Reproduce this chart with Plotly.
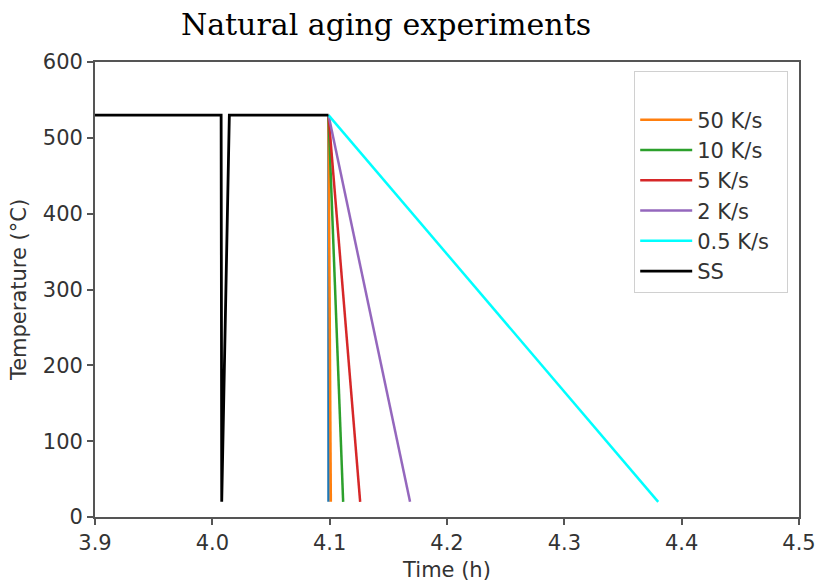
import plotly.graph_objects as go

# --- data ---
ss_time = [3.900, 4.0075, 4.0080, 4.0145, 4.0990]
ss_temp = [530, 530, 20, 530, 530]

quench_time = [4.0990, 4.0990]
quench_temp = [530, 20]

rate_labels = ["50 K/s", "10 K/s", "5 K/s", "2 K/s", "0.5 K/s"]
rate_time = [
    [4.0990, 4.1010],
    [4.0990, 4.1115],
    [4.0990, 4.1260],
    [4.0990, 4.1685],
    [4.0990, 4.3800],
]
rate_temp = [
    [530, 20],
    [530, 20],
    [530, 20],
    [530, 20],
    [530, 20],
]
rate_colors = ["#ff7f0e", "#2ca02c", "#d62728", "#9467bd", "#00ffff"]

x_ticks = [3.9, 4.0, 4.1, 4.2, 4.3, 4.4, 4.5]
x_tick_text = ["3.9", "4.0", "4.1", "4.2", "4.3", "4.4", "4.5"]
y_ticks = [0, 100, 200, 300, 400, 500, 600]

FS = 21

fig = go.Figure()

fig.add_trace(go.Scatter(x=quench_time, y=quench_temp, mode="lines",
                         line=dict(color="#1f77b4", width=2.5), showlegend=False))
for lbl, xs, ys, c in zip(rate_labels, rate_time, rate_temp, rate_colors):
    fig.add_trace(go.Scatter(x=xs, y=ys, mode="lines", name=lbl,
                             line=dict(color=c, width=2.5)))
fig.add_trace(go.Scatter(x=ss_time, y=ss_temp, mode="lines", name="SS",
                         line=dict(color="black", width=2.8)))

axis_common = dict(
    showline=True, linecolor="#555", linewidth=1.8, mirror=True,
    ticks="outside", ticklen=6, tickwidth=1.5, tickcolor="#555",
    showgrid=False, zeroline=False, automargin=False,
    tickfont=dict(family="DejaVu Sans", size=FS, color="#333"),
)

fig.update_layout(
    width=817, height=582,
    margin=dict(l=95, r=18, t=62, b=65),
    paper_bgcolor="white", plot_bgcolor="white",
    title=dict(text="Natural aging experiments", x=386/817, xanchor="center",
               y=1 - 24/582, yanchor="middle",
               font=dict(family="DejaVu Serif", size=30, color="black")),
    xaxis=dict(range=[3.9, 4.5], tickvals=x_ticks, ticktext=x_tick_text,
               title=dict(text="Time (h)", standoff=8,
                          font=dict(family="DejaVu Sans", size=FS, color="#333")),
               **axis_common),
    yaxis=dict(range=[0, 600], tickvals=y_ticks,
               title=dict(text="Temperature (°C)", standoff=10,
                          font=dict(family="DejaVu Sans", size=FS, color="#333")),
               **axis_common),
    legend=dict(x=(634 - 95) / 704, y=(517 - 71) / 455, xanchor="left", yanchor="top",
                bgcolor="white", bordercolor="#d0d0d0", borderwidth=1.2,
                font=dict(family="DejaVu Sans", size=FS, color="#333"),
                title=dict(text="\u00a0" * 22, font=dict(size=FS)),
                itemwidth=52),
)

fig.write_html("out.html")
